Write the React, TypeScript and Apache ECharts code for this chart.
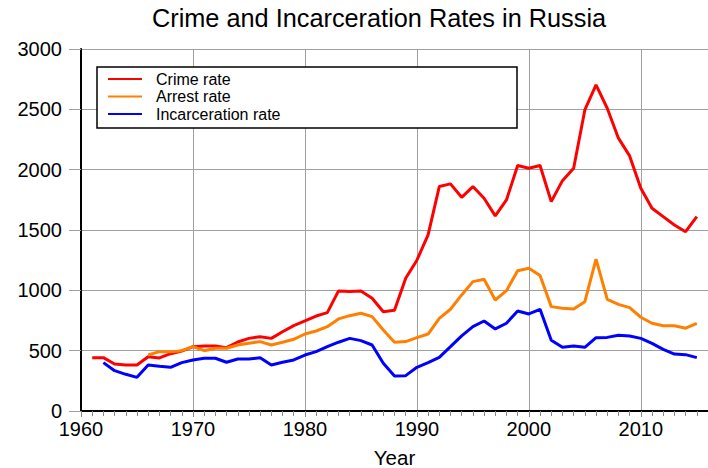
import React, { useEffect, useRef } from "react";
import * as echarts from "echarts";

const years: number[] = [];
for (let y = 1961; y <= 2015; y++) years.push(y);

// 1961..2015
const crimeRate: (number | null)[] = [
  442, 442, 390, 381, 381, 450, 440, 475, 497, 533,
  539, 539, 525, 572, 602, 616, 602, 657, 707, 746,
  787, 815, 995, 990, 995, 934, 823, 835, 1100, 1250,
  1459, 1860, 1882, 1771, 1860, 1763, 1617, 1749, 2034, 2012,
  2034, 1735, 1909, 2012, 2495, 2703, 2509, 2261, 2114, 1846,
  1680, 1611, 1542, 1486, 1611,
];

const arrestRate: (number | null)[] = [
  null, null, null, null, null, 464, 492, 490, 500, 533,
  500, 520, 520, 547, 561, 575, 547, 570, 594, 638,
  663, 699, 763, 790, 810, 782, 671, 570, 575, 608,
  638, 768, 843, 962, 1072, 1092, 920, 997, 1163, 1183,
  1122, 865, 851, 846, 906, 1258, 926, 884, 857, 777,
  727, 707, 707, 686, 727,
];

const incarcerationRate: (number | null)[] = [
  null, 401, 334, 304, 279, 381, 370, 362, 401, 423,
  437, 437, 404, 431, 431, 442, 381, 404, 423, 464,
  492, 533, 570, 602, 583, 547, 395, 290, 293, 362,
  401, 445, 533, 622, 699, 746, 680, 727, 829, 804,
  843, 586, 528, 539, 528, 608, 610, 627, 621, 602,
  561, 511, 472, 467, 442,
];

const seriesNames = ["Crime rate", "Arrest rate", "Incarceration rate"];
const seriesColors = ["#ff0000", "#ff8000", "#0000ff"];
const seriesValues = [crimeRate, arrestRate, incarcerationRate];

export default function App() {
  const ref = useRef<HTMLDivElement>(null);
  useEffect(() => {
    if (!ref.current) return;
    const chart = echarts.init(ref.current, undefined, { renderer: "svg" });
    const font = "'Liberation Sans', Arial, sans-serif";
    chart.setOption({
      animation: false,
      backgroundColor: "#ffffff",
      textStyle: { fontFamily: font },
      graphic: [
        {
          type: "text",
          x: 379,
          y: 18,
          style: {
            text: "Crime and Incarceration Rates in Russia",
            fontSize: 25.3,
            fontFamily: font,
            fill: "#000",
            textAlign: "center",
            textVerticalAlign: "middle",
          },
        },
        {
          type: "rect",
          z: 10,
          shape: { x: 97, y: 67, width: 420, height: 61 },
          style: { fill: "#fff", stroke: "#000", lineWidth: 1.5 },
        },
      ],
      legend: {
        z: 20,
        orient: "vertical",
        left: 108,
        top: 71,
        padding: 0,
        itemGap: 1.5,
        itemWidth: 34,
        itemHeight: 2,
        icon: "rect",
        textStyle: {
          fontSize: 16,
          fontFamily: font,
          color: "#000",
          padding: [0, 0, 0, 9],
        },
        data: seriesNames,
      },
      grid: {
        left: 81,
        right: 0,
        top: 49,
        bottom: 57,
        containLabel: false,
        outerBoundsMode: "none",
      },
      xAxis: {
        type: "value",
        min: 1960,
        max: 2016,
        interval: 10,
        name: "Year",
        nameLocation: "middle",
        nameGap: 36,
        nameTextStyle: { fontSize: 20.5, color: "#000", fontFamily: font },
        axisLine: { show: true, onZero: false, lineStyle: { color: "#000", width: 2 } },
        axisTick: { show: true, length: 6, lineStyle: { color: "#888" } },
        minorTick: { show: true, splitNumber: 10, length: 5, lineStyle: { color: "#888" } },
        axisLabel: {
          fontSize: 20,
          color: "#000",
          margin: 8,
          fontFamily: font,
          showMaxLabel: false,
          formatter: (v: number) => (v % 10 === 0 ? String(v) : ""),
        },
        splitLine: { show: true, lineStyle: { color: "#a0a0a0", width: 1 } },
      },
      yAxis: {
        type: "value",
        min: 0,
        max: 3000,
        interval: 500,
        axisLine: { show: true, lineStyle: { color: "#000", width: 2 } },
        axisTick: { show: true, length: 12, lineStyle: { color: "#a0a0a0" } },
        axisLabel: {
          fontSize: 20,
          color: "#000",
          margin: 19,
          fontFamily: font,
          formatter: (v: number) => String(v),
        },
        splitLine: { show: true, lineStyle: { color: "#a0a0a0", width: 1 } },
      },
      series: seriesNames.map((name, i) => ({
        name,
        type: "line",
        showSymbol: false,
        symbol: "none",
        connectNulls: false,
        color: seriesColors[i],
        lineStyle: { color: seriesColors[i], width: 3 },
        data: years.map((yr, j) => [yr, seriesValues[i][j]]),
      })),
    });
    return () => chart.dispose();
  }, []);
  return (
    <div
      ref={ref}
      style={{ position: "fixed", left: 0, top: 0, width: 708, height: 468 }}
    />
  );
}
